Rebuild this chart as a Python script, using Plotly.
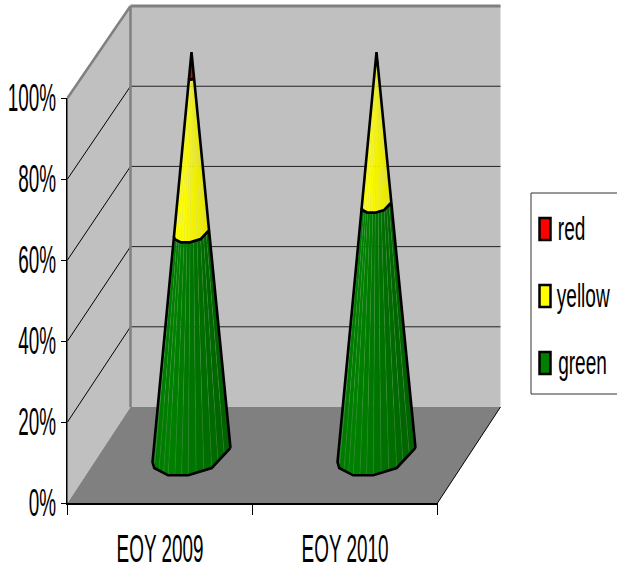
import math
import plotly.graph_objects as go

categories = ["EOY 2009", "EOY 2010"]
green = [55, 62]
yellow = [38.5, 35]
red = [6.5, 3]
series = [("green", green), ("yellow", yellow), ("red", red)]
value_ticks = [0, 20, 40, 60, 80, 100]

# oblique projection of the chart's depth, in axis units
DX, DY = 63 / 185, 96 / 4.05
FORESHORTEN = 0.01
RX, RD = 0.197, 0.22
RING_ANGLES = [-20, 38, 74, 106, 142, 160]
SUBDIV = 3
SHADES = {
    "green": ((0, 118, 0), (0, 128, 0), (0, 98, 0)),
    "yellow": ((255, 255, 0), (255, 255, 0), (228, 228, 0)),
    "red": ((235, 0, 0), (200, 0, 0), (160, 0, 0)),
}
STRIP_LINE = {"green": "rgba(110,190,110,0.25)", "yellow": "rgba(235,235,90,0.4)", "red": "rgba(200,0,0,0.5)"}
LEGEND_COLORS = {"red": "#ff0000", "yellow": "#ffff00", "green": "#008000"}

FW, FH = 617, 571
L, T, W, H = 67.5, 98, 370, 405


def proj(x, v, d):
    return x + d * DX, v * (1 - FORESHORTEN * d) + d * DY


def ring_point(i, a, v):
    t = math.radians(a)
    s = 1 - v / 100
    x = i + 0.5 + s * RX * math.cos(t)
    d = 0.5 - s * RD * math.sin(t)
    return proj(x, v, d)


def ring(i, v):
    return [ring_point(i, a, v) for a in RING_ANGLES]


def subdivided(points):
    out = []
    for (x0, y0), (x1, y1) in zip(points, points[1:]):
        for k in range(SUBDIV):
            f = k / SUBDIV
            out.append((x0 + (x1 - x0) * f, y0 + (y1 - y0) * f))
    out.append(points[-1])
    return out


def shade(name, f):
    a, b, c = SHADES[name]
    if f < 0.4:
        g = f / 0.4
        col = [a[j] + (b[j] - a[j]) * g for j in range(3)]
    else:
        g = (f - 0.4) / 0.6
        col = [b[j] + (c[j] - b[j]) * g for j in range(3)]
    return "rgb(%d,%d,%d)" % tuple(col)


fig = go.Figure()


def poly(pts, fill, line=None, width=0):
    xs = [p[0] for p in pts] + [pts[0][0]]
    ys = [p[1] for p in pts] + [pts[0][1]]
    fig.add_trace(go.Scatter(
        x=xs, y=ys, xaxis="x2", yaxis="y2", mode="lines", fill="toself", fillcolor=fill,
        line=dict(color=line or fill, width=width), showlegend=False, hoverinfo="skip"))


def seg(p0, p1, color, width):
    fig.add_trace(go.Scatter(
        x=[p0[0], p1[0]], y=[p0[1], p1[1]], xaxis="x2", yaxis="y2", mode="lines",
        line=dict(color=color, width=width), showlegend=False, hoverinfo="skip"))


N = len(categories)
# keeps the tick-bearing axes alive
fig.add_trace(go.Scatter(x=[0, N], y=[0, 100], mode="none", showlegend=False, hoverinfo="skip"))

# walls and floor
poly([proj(0, 0, 1), proj(N, 0, 1), proj(N, 100, 1), proj(0, 100, 1)], "#c0c0c0")
poly([proj(0, 0, 0), proj(0, 0, 1), proj(0, 100, 1), proj(0, 100, 0)], "#c0c0c0")
poly([proj(0, 0, 0), proj(N, 0, 0), proj(N, 0, 1), proj(0, 0, 1)], "#808080")
for v in value_ticks[1:-1]:
    seg(proj(0, v, 1), proj(N, v, 1), "#222222", 1)
for v in value_ticks[1:-1]:
    seg(proj(0, v, 0), proj(0, v, 1), "#000000", 1)
seg(proj(0, 0, 1), proj(0, 100, 1), "#808080", 2.5)
seg(proj(0, 100, 0), proj(0, 100, 1), "#808080", 2.5)
seg(proj(0, 100, 1), proj(N, 100, 1), "#808080", 3)
seg(proj(N, 0, 0), proj(N, 0, 1), "#000000", 1)

# stacked cones
for i in range(N):
    base = 0
    for name, values in series:
        top = base + values[i]
        low = subdivided(ring(i, base))
        high = subdivided(ring(i, top))
        n = len(low) - 1
        for k in range(n):
            f = 1 - (k + 0.5) / n
            poly([low[k], low[k + 1], high[k + 1], high[k]], shade(name, f), STRIP_LINE[name], 0.5)
        outline = ring(i, base) + ring(i, top)[::-1]
        fig.add_trace(go.Scatter(
            x=[p[0] for p in outline] + [outline[0][0]],
            y=[p[1] for p in outline] + [outline[0][1]],
            xaxis="x2", yaxis="y2",
            mode="lines", line=dict(color="#000000", width=2.6),
            showlegend=False, hoverinfo="skip"))
        base = top


def px(x): return x / FW
def py(y): return (FH - y) / FH


shapes = [dict(type="rect", xref="paper", yref="paper", x0=px(531), x1=px(625), y0=py(394), y1=py(193),
               line=dict(color="#333333", width=1), fillcolor="#ffffff", layer="below")]
annotations = []
LEGEND_ROWS = [("red", 229, 571), ("yellow", 296, 583.5), ("green", 363, 582)]
for name, yc, xc in LEGEND_ROWS:
    shapes.append(dict(type="rect", xref="paper", yref="paper", x0=px(539.5), x1=px(550.5),
                       y0=py(yc + 11), y1=py(yc - 11), fillcolor=LEGEND_COLORS[name],
                       line=dict(color="#000000", width=2.5)))
    annotations.append(dict(text=name, xref="paper", yref="paper", x=px(xc), y=py(yc - 1),
                            xanchor="center", yanchor="middle", showarrow=False,
                            font=dict(family="Liberation Sans", size=34, color="#000000")))

fig.update_layout(
    width=FW, height=FH,
    margin=dict(l=0, r=0, t=0, b=0),
    paper_bgcolor="#ffffff", plot_bgcolor="rgba(0,0,0,0)",
    showlegend=False, shapes=shapes, annotations=annotations,
    xaxis=dict(
        domain=[px(L), px(L + W)], anchor="y",
        range=[0, N], tickmode="array", automargin=False, tickangle=0,
        tickvals=[i + 0.5 for i in range(N)], ticktext=categories,
        ticks="outside", ticklen=12, tickcolor="rgba(0,0,0,0)", showgrid=False, zeroline=False,
        showline=True, linecolor="#000000", linewidth=1.5, layer="above traces",
        tickfont=dict(family="Liberation Sans", size=38, color="#000000"),
        minor=dict(tickmode="array", tickvals=list(range(N + 1)), ticks="outside",
                   ticklen=10, tickcolor="#000000", tickwidth=1, showgrid=False),
    ),
    yaxis=dict(
        domain=[py(T + H), py(T)], anchor="x",
        range=[0, 100], tickmode="array", tickvals=value_ticks, automargin=False,
        ticktext=["%d%%" % v for v in value_ticks],
        ticks="outside", ticklen=5, tickcolor="#000000", tickwidth=1,
        showgrid=False, zeroline=False, showline=True, ticklabelstandoff=-3,
        linecolor="#000000", linewidth=1.5,
        tickfont=dict(family="Liberation Sans", size=38, color="#000000"),
    ),
    xaxis2=dict(domain=[0, 1], anchor="y2", visible=False,
                range=[-L * N / W, (FW - L) * N / W]),
    yaxis2=dict(domain=[0, 1], anchor="x2", visible=False,
                range=[-(FH - T - H) * 100 / H, (T + H) * 100 / H]),
)

post = """
document.body.style.margin = '0';
var squeeze = function (sel, k) {
  document.querySelectorAll(sel).forEach(function (t) {
    var x = parseFloat(t.getAttribute('x')) || 0;
    var cur = t.getAttribute('transform') || '';
    t.setAttribute('transform', cur + ' translate(' + x + ',0) scale(' + k + ',1) translate(' + (-x) + ',0)');
  });
};
squeeze('.xtick text, .ytick text', 0.497);
squeeze('.annotation-text', 0.56);
"""
fig.write_html("out.html", post_script=post, config={"responsive": False, "displayModeBar": False})
